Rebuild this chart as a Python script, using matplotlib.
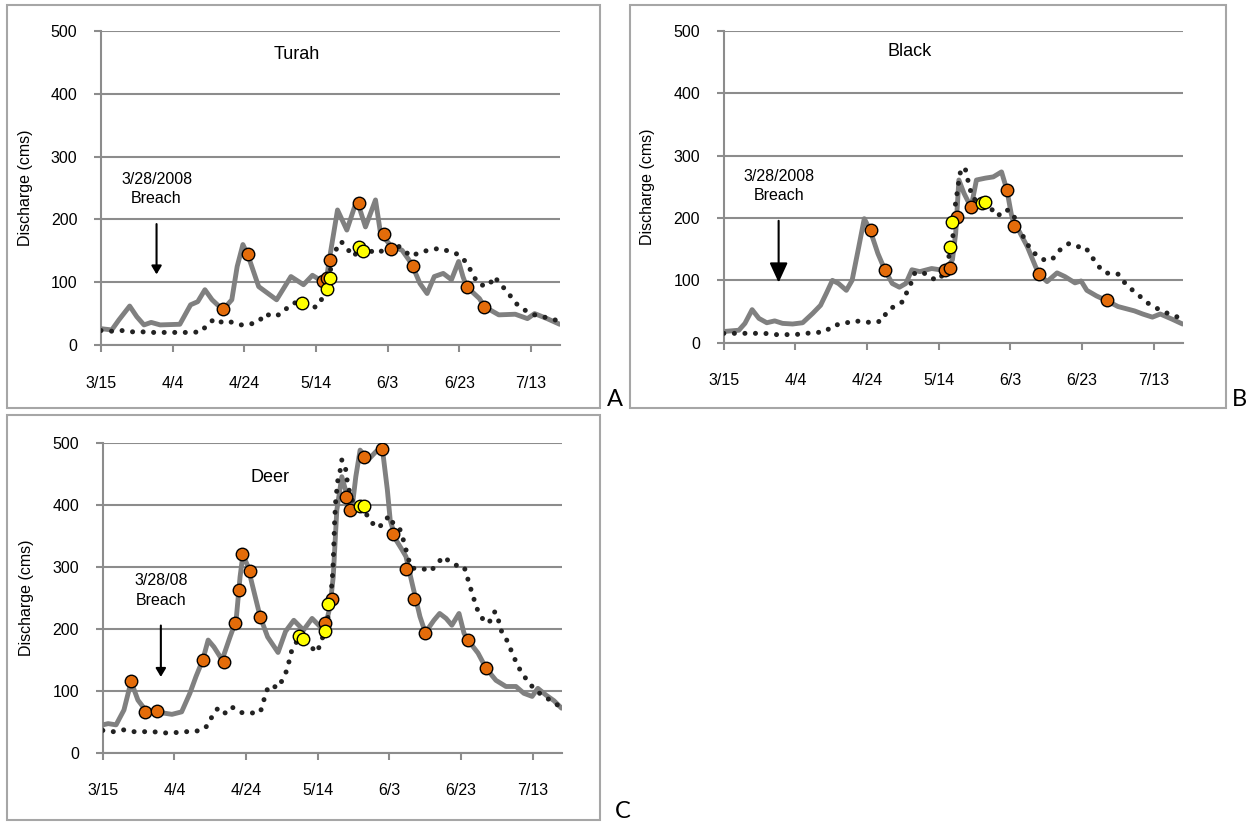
import numpy as np
import matplotlib
matplotlib.use("Agg")
from matplotlib import pyplot as plt
from matplotlib.patches import Rectangle

NARROW = ['Liberation Sans Narrow', 'Liberation Sans', 'DejaVu Sans']
plt.rcParams['font.family'] = NARROW

tick_days = [0, 20, 40, 60, 80, 100, 120]
tick_labels = ["3/15", "4/4", "4/24", "5/14", "6/3", "6/23", "7/13"]

# ---- Turah (A) ----
turah_days = [0, 3, 5, 8, 10, 12, 14, 16.5, 22, 25, 27, 29, 31, 34, 36.5, 38, 39.6, 41, 44, 49,
              53, 56.5, 59, 61, 63, 64, 66, 68.6, 71.4, 73.8, 76.6, 78, 81, 84, 86.6, 89, 91, 93,
              95.5, 97.8, 99.8, 101, 102, 105.6, 107, 111, 115.6, 119, 121, 124.5, 128]
turah_flow = [26, 24, 40, 62, 45, 32, 36, 32, 33, 64, 69, 88, 72, 56, 72, 125, 160, 143, 93, 72,
              109, 96, 111, 104, 109, 146, 215, 183, 231, 188, 231, 178, 157, 151, 130, 98, 82, 109,
              114, 104, 133, 109, 93, 74, 61, 48, 49, 42, 50, 42, 33]
turah_dot_days = [0, 3, 6, 8.7, 11.5, 14, 17, 20, 22.6, 25, 28, 30, 32, 34, 36, 39, 41.5, 44, 45.8,
                  48, 50.5, 52.7, 55, 60, 61.6, 63, 64, 65.5, 67, 70.5, 72.7, 76.6, 79, 80.5, 82,
                  84.4, 86.6, 89, 91.6, 94.4, 96.7, 99, 101, 102.6, 104, 105.6, 108, 110, 111, 113,
                  114.5, 116.5, 119, 121, 124, 126.7, 128]
turah_dot_flow = [23, 22, 23, 21, 21, 20, 20, 20, 20, 20, 21, 35, 42, 35, 37, 32, 33, 37, 50,
                  45, 50, 64, 69, 60, 73, 93, 119, 151, 165, 141, 157, 146, 151, 158, 162,
                  151, 141, 148, 151, 154, 150, 146, 138, 125, 109, 96, 94, 109, 98, 88,
                  76, 62, 53, 48, 44, 40, 36]
turah_orange_days = [34, 41, 62, 63, 64, 72, 79, 81, 87, 102, 107]
turah_orange_flow = [57, 145, 102, 107, 136, 226, 176, 153, 126, 93, 60]
turah_yellow_days = [56, 63, 64, 72, 73]
turah_yellow_flow = [67, 89, 106, 156, 150]

# ---- Black (B) ----
black_days = [0, 4.2, 5.9, 7.9, 9.8, 12, 14.2, 16.4, 19.2, 22, 24.8, 27, 28.6, 30.3, 32, 34.2, 35.8,
              37.5, 39.2, 40.8, 43, 45, 47, 49, 50.8, 52.5, 54.7, 58, 60.3, 62, 63.8, 64.7, 65.6,
              67, 69, 70.5, 73, 75.2, 77.5, 79, 80.2, 81, 82.5, 84.7, 87, 88, 90.2, 93, 95.2, 98,
              99.7, 101.3, 104, 107, 110, 114.6, 116.9, 119.6, 121.8, 125, 128]
black_flow = [18, 20, 31, 53, 39, 32, 35, 31, 30, 32, 47, 60, 79, 100, 95, 84, 100,
              149, 199, 181, 143, 116, 95, 89, 95, 117, 114, 119, 117, 117, 133, 175, 261,
              240, 217, 261, 264, 266, 274, 245, 207, 189, 178, 154, 122, 110, 98, 112, 106, 96,
              99, 84, 75, 67, 58, 51, 46, 41, 46, 38, 30]
black_dot_days = [0, 2.8, 5.7, 8.4, 11.4, 14.2, 17, 20, 22.8, 25.6, 28.4, 30.5, 33.3, 36, 38.8,
                  41.4, 44.2, 45.5, 47.7, 50, 51, 52.2, 53.3, 55.8, 58, 60.3, 61.4, 62.5, 63.6,
                  64.2, 64.5, 64.7, 65.3, 65.6, 66.2, 67.3, 68, 68.6, 69.7, 71.7, 74, 76.4, 78.6,
                  80.5, 82, 84, 85.6, 87.5, 90, 92, 94, 96.3, 98.6, 100.8, 102.2, 104, 105.8, 108,
                  110, 111.9, 113.5, 116, 118.2, 120.2, 123, 125.8, 128]
black_dot_flow = [15, 15, 15, 15, 15, 13, 13, 13, 15, 16, 18, 28, 30, 35, 34,
                  32, 35, 50, 59, 66, 80, 95, 112, 112, 103, 101, 114, 130, 159,
                  181, 207, 229, 245, 262, 278, 281, 264, 248, 230, 229, 219, 203, 214,
                  209, 189, 165, 150, 139, 131, 136, 150, 159, 154, 154, 142, 127, 114, 110,
                  110, 96, 87, 75, 64, 57, 49, 43, 38]
black_orange_days = [41, 45, 61.7, 63, 65, 69, 79, 81, 88, 107]
black_orange_flow = [180, 116, 116, 120, 201, 217, 245, 188, 111, 68]
black_yellow_days = [63, 63.8, 72, 73]
black_yellow_flow = [153, 193, 224, 226]

# ---- Deer (C) ----
deer_days = [0, 1.5, 3.7, 5.9, 7.9, 9.8, 11.5, 13.7, 15, 17, 19.3, 22, 24.3, 26, 27.9, 29.4, 31,
             33.3, 35.5, 37.2, 38.3, 39.1, 40.5, 41.6, 43.9, 46, 48.9, 51, 53.3, 56, 58.4, 60.6,
             62.3, 63.4, 64.3, 65.3, 66.7, 68, 69.5, 70.6, 71.8, 74, 76.3, 78, 79.4, 80.2, 81.8,
             83.5, 84.6, 86.3, 88.5, 90, 92.4, 94, 95.8, 97.4, 99.4, 100.8, 101.9, 104.7, 107,
             109.7, 112.5, 115.3, 117.5, 119.8, 121.4, 123.7, 125.9, 128]
deer_flow = [45, 47, 45, 69, 115, 85, 72, 67, 66, 64, 62, 66, 96, 123, 150, 182, 171,
             150, 187, 214, 284, 320, 301, 274, 220, 187, 162, 196, 214, 198, 217, 204,
             209, 236, 284, 392, 446, 419, 392, 446, 489, 473, 487, 492, 425, 376, 344,
             328, 317, 274, 220, 194, 214, 225, 217, 206, 225, 193, 182, 161, 136,
             117, 107, 107, 96, 91, 104, 93, 84, 72]
deer_dot_days = [0, 2.9, 5.7, 8.5, 11.3, 14, 16.9, 19.6, 22.4, 25.2, 28, 29.7, 30.8, 32.4, 34.2,
                 36, 38.3, 41, 43.9, 44.8, 45.3, 46.6, 49, 50.3, 51.5, 52.1, 52.8, 54.5, 57.6,
                 59.7, 60.6, 61.7, 62.6, 63, 63.6, 64, 64.3, 64.5, 64.7, 65, 65.6, 66.2, 66.7,
                 67.6, 68.4, 69.5, 70.6, 72.3, 74.6, 75.9, 78.1, 79.8, 81.3, 82.9, 83.8, 84.6,
                 85.4, 86.3, 89, 91.5, 93.3, 95.2, 97.2, 99.1, 100.8, 101.6, 102.5, 103.3, 104.1,
                 105.2, 106.9, 108.4, 109.4, 110.3, 111, 112.5, 113.6, 114.7, 115.8, 117.3,
                 118.9, 120.9, 122.9, 125.6, 128]
deer_dot_flow = [36, 34, 37, 34, 34, 34, 32, 32, 34, 34, 37, 47, 64, 73, 64,
                 74, 65, 64, 65, 80, 96, 109, 105, 120, 135, 151, 167, 183, 174,
                 162, 174, 192, 209, 226, 258, 275, 309, 341, 376, 408, 441, 455, 473,
                 465, 431, 409, 398, 392, 379, 364, 368, 383, 368, 361, 345, 328,
                 311, 298, 298, 293, 306, 317, 306, 302, 301, 286, 268, 254, 237,
                 223, 209, 214, 228, 217, 199, 185, 170, 155, 140, 126,
                 113, 100, 92, 82, 73]
deer_orange_days = [7.9, 11.9, 15, 27.9, 33.9, 36.9, 37.9, 38.8, 41, 43.9, 62, 64, 67.9, 69,
                    72.9, 77.9, 80.9, 84.7, 86.8, 89.8, 101.9, 107]
deer_orange_flow = [116, 66, 68, 150, 147, 209, 263, 321, 294, 220, 209, 248, 414, 392,
                    478, 490, 353, 297, 248, 193, 182, 137]
deer_yellow_days = [54.8, 55.9, 62, 62.8, 71.8, 72.9]
deer_yellow_flow = [189, 183, 196, 240, 399, 399]

W, H = 1253, 825
fig = plt.figure(figsize=(W / 100, H / 100), dpi=100)


def px_axes(l, r, b, t):
    return fig.add_axes([l / W, 1 - b / H, (r - l) / W, (b - t) / H])


def panel(ax, name, name_xy, days, flow, ddays, dflow, odays, oflow, ydays, yflow,
          breach_txt, arrow_x, arrow_top, arrow_bot, big_head):
    ax.set_xlim(0, 128)
    ax.set_ylim(0, 500)
    ax.yaxis.grid(True, color='#8c8c8c', linewidth=1.5)
    ax.set_axisbelow(True)
    for s in ['top', 'right']:
        ax.spines[s].set_visible(False)
    for s in ['left', 'bottom']:
        ax.spines[s].set_color('#8c8c8c')
        ax.spines[s].set_linewidth(1.5)
    ax.set_xticks(tick_days)
    ax.set_xticklabels(tick_labels)
    ax.set_yticks([0, 100, 200, 300, 400, 500])
    ax.tick_params(axis='x', length=5, width=1.5, color='#8c8c8c', pad=17, labelsize=11.5)
    ax.tick_params(axis='y', length=5, width=1.5, color='#8c8c8c', pad=12, labelsize=11.5)
    ax.set_ylabel("Discharge (cms)", fontsize=11.5, labelpad=13)

    ax.plot(days, flow, color='#808080', linewidth=3.5, solid_joinstyle='round',
            solid_capstyle='round', zorder=3)
    ax.plot(ddays, dflow, color='#222222', linewidth=3.6, linestyle=(0, (0.01, 2.1)),
            dash_capstyle='round', zorder=4)
    ax.plot(odays, oflow, 'o', color='#E46C0A', markeredgecolor='black',
            markeredgewidth=1.0, markersize=9, zorder=5)
    ax.plot(ydays, yflow, 'o', color='#FFFF00', markeredgecolor='black',
            markeredgewidth=1.0, markersize=9, zorder=6)

    ax.text(name_xy[0], name_xy[1], name, fontsize=13, ha='center', va='center')
    ax.text(arrow_x, arrow_top + 52, breach_txt, fontsize=11.5, ha='center', va='center',
            linespacing=1.35)
    if big_head:
        props = dict(arrowstyle='-|>,head_length=1.2,head_width=0.55', color='black', lw=1.5)
    else:
        props = dict(arrowstyle='-|>,head_length=0.5,head_width=0.3', color='black', lw=1.5)
    ax.annotate('', xy=(arrow_x, arrow_bot), xytext=(arrow_x, arrow_top), arrowprops=props)


axA = px_axes(101, 559.7, 345, 31)
panel(axA, "Turah", (54.5, 462), turah_days, turah_flow, turah_dot_days, turah_dot_flow,
      turah_orange_days, turah_orange_flow, turah_yellow_days, turah_yellow_flow,
      "3/28/2008\nBreach", 15.5, 197, 108, False)

axB = px_axes(723.8, 1182.5, 342.7, 31)
panel(axB, "Black", (51.8, 467), black_days, black_flow, black_dot_days, black_dot_flow,
      black_orange_days, black_orange_flow, black_yellow_days, black_yellow_flow,
      "3/28/2008\nBreach", 15.3, 200, 92, True)

axC = px_axes(102.8, 561.5, 752.7, 443.3)
panel(axC, "Deer", (46.6, 445), deer_days, deer_flow, deer_dot_days, deer_dot_flow,
      deer_orange_days, deer_orange_flow, deer_yellow_days, deer_yellow_flow,
      "3/28/08\nBreach", 16.2, 210, 118, False)

# panel frames and letters
for (l, t, r, b) in [(7, 5, 600, 408), (630, 5, 1226, 408), (7, 415, 600, 820)]:
    fig.patches.append(Rectangle((l / W, 1 - b / H), (r - l) / W, (b - t) / H,
                                 transform=fig.transFigure, fill=False,
                                 edgecolor='#a6a6a6', linewidth=1.5))
for letter, x, y in [("A", 615, 400), ("B", 1239, 400), ("C", 623, 812)]:
    fig.text(x / W, 1 - y / H, letter, fontsize=17, ha='center', va='center',
             family=['Lato', 'DejaVu Sans'])

plt.savefig("out.png", dpi=100)
